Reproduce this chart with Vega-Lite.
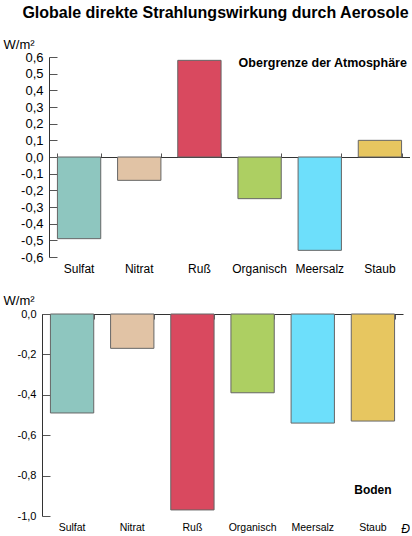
{
  "$schema": "https://vega.github.io/schema/vega-lite/v6.json",
  "description": "Globale direkte Strahlungswirkung durch Aerosole",
  "padding": {"left": 3, "top": 4, "right": 0, "bottom": 0},
  "title": {
    "text": "Globale direkte Strahlungswirkung durch Aerosole",
    "font": "Liberation Sans",
    "fontSize": 16,
    "fontWeight": "bold",
    "anchor": "middle",
    "dx": 9,
    "offset": 17.5
  },
  "datasets": {
    "aerosole": [
      {"Aerosol": "Sulfat", "toa": -0.49, "boden": -0.49},
      {"Aerosol": "Nitrat", "toa": -0.14, "boden": -0.17},
      {"Aerosol": "Ruß", "toa": 0.58, "boden": -0.97},
      {"Aerosol": "Organisch", "toa": -0.25, "boden": -0.39},
      {"Aerosol": "Meersalz", "toa": -0.56, "boden": -0.54},
      {"Aerosol": "Staub", "toa": 0.1, "boden": -0.53}
    ]
  },
  "config": {
    "view": {"stroke": null},
    "axis": {
      "grid": false,
      "labelFont": "Liberation Sans",
      "titleFont": "Liberation Sans",
      "labelColor": "#000",
      "titleColor": "#000",
      "domainColor": "#333",
      "tickColor": "#555"
    }
  },
  "spacing": 20,
  "vconcat": [
    {
      "width": 368,
      "height": 200,
      "data": {"name": "aerosole"},
      "layer": [
        {
          "mark": {"type": "bar", "stroke": "#666", "strokeWidth": 1},
          "encoding": {
            "x": {
              "field": "Aerosol",
              "type": "nominal",
              "sort": null,
              "scale": {"range": [7, 368], "paddingInner": 0.28, "paddingOuter": 0.14},
              "axis": {"orient": "bottom", "domain": false, "ticks": false, "labelFontSize": 12, "labelPadding": 6, "labelAngle": 0, "title": null}
            },
            "y": {
              "field": "toa",
              "type": "quantitative",
              "scale": {"domain": [-0.6, 0.6], "nice": false},
              "axis": {
                "orient": "left",
                "offset": -7,
                "values": [-0.6, -0.5, -0.4, -0.3, -0.2, -0.1, 0, 0.1, 0.2, 0.3, 0.4, 0.5, 0.6],
                "tickSize": -8,
                "labelFontSize": 13,
                "labelPadding": 14,
                "labelOverlap": false,
                "labelFlush": false,
                "labelExpr": "replace(replace(format(datum.value, '.1f'), '.', ','), '\u2212', '-')",
                "title": "W/m²",
                "titleAngle": 0,
                "titleAlign": "left",
                "titleBaseline": "alphabetic",
                "titleFontSize": 13,
                "titleFontWeight": "normal",
                "titleX": -46,
                "titleY": -9
              }
            },
            "color": {
              "field": "Aerosol",
              "type": "nominal",
              "sort": null,
              "scale": {
                "domain": ["Sulfat", "Nitrat", "Ruß", "Organisch", "Meersalz", "Staub"],
                "range": ["#8ec6bf", "#e1c3a5", "#d9495f", "#adcf62", "#6ddffb", "#e7c660"]
              },
              "legend": null
            }
          }
        },
        {
          "data": {"values": [{}]},
          "mark": {"type": "text", "font": "Liberation Sans", "fontWeight": "bold", "fontSize": 12.5, "align": "right", "baseline": "middle", "dx": 27},
          "encoding": {
            "x": {
              "datum": "Staub",
              "type": "nominal",
              "axis": {"orient": "top", "offset": -100, "labels": false, "tickBand": "extent", "tickSize": 4, "domain": true, "title": null}
            },
            "y": {"datum": 0.567, "type": "quantitative", "axis": null},
            "text": {"value": "Obergrenze der Atmosphäre"}
          }
        }
      ],
      "resolve": {"axis": {"x": "independent", "y": "independent"}}
    },
    {
      "width": 361,
      "height": 202,
      "data": {"name": "aerosole"},
      "layer": [
        {
          "mark": {"type": "bar", "stroke": "#666", "strokeWidth": 1},
          "encoding": {
            "x": {
              "field": "Aerosol",
              "type": "nominal",
              "sort": null,
              "scale": {"paddingInner": 0.28, "paddingOuter": 0.14},
              "axis": {
                "orient": "bottom", "domain": false, "ticks": false, "labelFontSize": 10.5, "labelPadding": 6, "labelAngle": 0,
                "title": "Ð", "titleFontStyle": "italic", "titleFontWeight": "normal", "titleFontSize": 12,
                "titleX": 363, "titleY": 16, "titleAlign": "center", "titleBaseline": "alphabetic"
              }
            },
            "y": {
              "field": "boden",
              "type": "quantitative",
              "scale": {"domain": [-1, 0], "nice": false},
              "axis": {
                "orient": "left",
                "values": [-1, -0.8, -0.6, -0.4, -0.2, 0],
                "tickSize": -8,
                "labelFontSize": 11,
                "labelPadding": 14,
                "labelOverlap": false,
                "labelFlush": false,
                "labelExpr": "replace(replace(format(datum.value, '.1f'), '.', ','), '\u2212', '-')",
                "title": "W/m²",
                "titleAngle": 0,
                "titleAlign": "left",
                "titleBaseline": "bottom",
                "titleFontSize": 13,
                "titleFontWeight": "normal",
                "titleX": -39,
                "titleY": -7
              }
            },
            "color": {
              "field": "Aerosol",
              "type": "nominal",
              "sort": null,
              "scale": {
                "domain": ["Sulfat", "Nitrat", "Ruß", "Organisch", "Meersalz", "Staub"],
                "range": ["#8ec6bf", "#e1c3a5", "#d9495f", "#adcf62", "#6ddffb", "#e7c660"]
              },
              "legend": null
            }
          }
        },
        {
          "data": {"values": [{}]},
          "mark": {"type": "text", "font": "Liberation Sans", "fontWeight": "bold", "fontSize": 12, "align": "center", "baseline": "middle"},
          "encoding": {
            "x": {
              "datum": "Staub",
              "type": "nominal",
              "axis": {"orient": "top", "labels": false, "tickBand": "extent", "tickSize": -5, "domain": true, "title": null}
            },
            "y": {"datum": -0.87, "type": "quantitative", "axis": null},
            "text": {"value": "Boden"}
          }
        }
      ],
      "resolve": {"axis": {"x": "independent", "y": "independent"}}
    }
  ]
}
